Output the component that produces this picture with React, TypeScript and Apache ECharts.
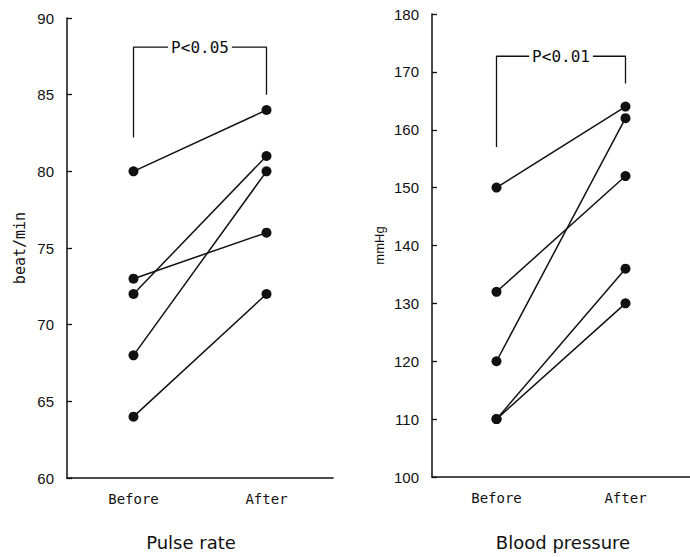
import React, { useEffect, useRef } from "react";
import * as echarts from "echarts";

const categories = ["Before", "After"];
const pulseBefore = [80, 73, 72, 68, 64];
const pulseAfter = [84, 76, 81, 80, 72];
const bpBefore = [150, 132, 120, 110, 110];
const bpAfter = [164, 152, 162, 136, 130];
const pulseBracket = [82.2, 88.1, 85];
const bpBracket = [157, 172.7, 168];
const pulseLabel = "P<0.05";
const bpLabel = "P<0.01";
const titles = ["Pulse rate", "Blood pressure"];
const axisNames = ["beat/min", "mmHg"];

const INK = "#111";

export default function App() {
  const ref = useRef<HTMLDivElement>(null);
  useEffect(() => {
    if (!ref.current) return;
    const chart = echarts.init(ref.current, undefined, { renderer: "svg" });
    const pairSeries = (before: number[], after: number[], idx: number) =>
      before.map((b, i) => ({
        type: "line",
        xAxisIndex: idx,
        yAxisIndex: idx,
        data: [b, after[i]],
        symbol: "circle",
        symbolSize: 10,
        itemStyle: { color: INK },
        lineStyle: { color: INK, width: 1.5 },
        z: 3,
      }));
    const bracketSeries = (br: number[], idx: number) => ({
      type: "line",
      xAxisIndex: idx,
      yAxisIndex: idx,
      data: [
        [0, br[0]],
        [0, br[1]],
        [1, br[1]],
        [1, br[2]],
      ],
      symbol: "none",
      lineStyle: { color: INK, width: 1.3 },
      z: 2,
    });
    const xAxis = (idx: number) => ({
      type: "category",
      gridIndex: idx,
      data: categories,
      boundaryGap: true,
      axisLine: { lineStyle: { color: INK, width: 1.6 } },
      axisTick: { inside: true, length: 5, lineStyle: { color: INK, width: 1.3 } },
      axisLabel: {
        color: INK,
        fontFamily: "DejaVu Sans Mono",
        fontSize: 14,
        margin: 14,
      },
      splitLine: { show: false },
    });
    const yAxis = (
      idx: number,
      min: number,
      max: number,
      interval: number,
      name: string,
      gap: number,
      nameFont: string,
      nameSize: number
    ) => ({
      type: "value",
      gridIndex: idx,
      min,
      max,
      interval,
      name,
      nameLocation: "middle",
      nameGap: gap,
      nameTextStyle: { color: INK, fontFamily: nameFont, fontSize: nameSize },
      axisLine: { show: true, lineStyle: { color: INK, width: 1.5 } },
      axisTick: { show: true, inside: true, length: 5, lineStyle: { color: INK, width: 1.3 } },
      axisLabel: { color: INK, fontFamily: "Liberation Sans", fontSize: 15, margin: 13 },
      splitLine: { show: false },
    });
    const option: any = {
      animation: false,
      backgroundColor: "#fff",
      grid: [
        { left: 67, top: 18, width: 266, height: 460 },
        { left: 432, top: 14, width: 264, height: 463 },
      ],
      xAxis: [xAxis(0), xAxis(1)],
      yAxis: [
        yAxis(0, 60, 90, 5, axisNames[0], 40, "DejaVu Sans Mono", 15),
        yAxis(1, 100, 180, 10, axisNames[1], 46, "Liberation Sans", 13),
      ],
      series: [
        ...pairSeries(pulseBefore, pulseAfter, 0),
        ...pairSeries(bpBefore, bpAfter, 1),
        bracketSeries(pulseBracket, 0),
        bracketSeries(bpBracket, 1),
      ],
    };
    chart.setOption(option);

    const labelAt = (idx: number, br: number[], text: string) => {
      const a = chart.convertToPixel({ gridIndex: idx } as any, [0, br[1]]) as number[];
      const b = chart.convertToPixel({ gridIndex: idx } as any, [1, br[1]]) as number[];
      return {
        type: "text",
        z: 100,
        x: (a[0] + b[0]) / 2,
        y: a[1],
        style: {
          text,
          fill: INK,
          font: '16px "DejaVu Sans Mono"',
          textAlign: "center",
          textVerticalAlign: "middle",
          align: "center",
          verticalAlign: "middle",
          backgroundColor: "#fff",
          padding: [0, 3],
        },
      };
    };
    const titleAt = (idx: number, text: string, dx: number) => {
      const base = idx === 0 ? 60 : 100;
      const a = chart.convertToPixel({ gridIndex: idx } as any, [0, base]) as number[];
      const b = chart.convertToPixel({ gridIndex: idx } as any, [1, base]) as number[];
      return {
        type: "text",
        z: 100,
        x: (a[0] + b[0]) / 2 + dx,
        y: 533,
        style: {
          text,
          fill: INK,
          font: '18px "DejaVu Sans"',
          textAlign: "center",
          textVerticalAlign: "top",
          align: "center",
          verticalAlign: "top",
        },
      };
    };
    chart.setOption({
      graphic: [
        labelAt(0, pulseBracket, pulseLabel),
        labelAt(1, bpBracket, bpLabel),
        titleAt(0, titles[0], -9),
        titleAt(1, titles[1], 2),
      ],
    });
    return () => chart.dispose();
  }, []);
  return (
    <div
      ref={ref}
      style={{ position: "fixed", left: 0, top: 0, width: 690, height: 557, background: "#fff" }}
    />
  );
}
